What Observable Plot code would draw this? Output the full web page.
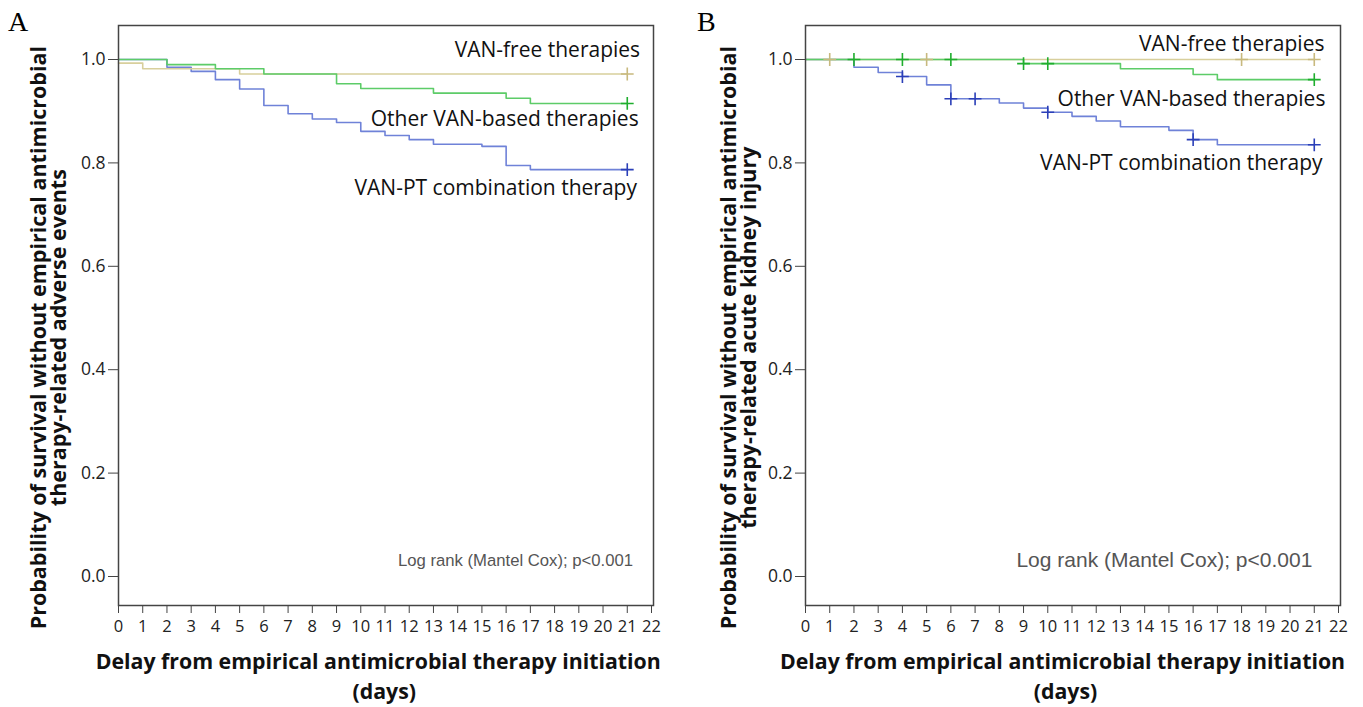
<!DOCTYPE html>
<html><head><meta charset="utf-8">
<script src="https://cdn.jsdelivr.net/npm/d3@7"></script>
<script src="https://cdn.jsdelivr.net/npm/@observablehq/plot@0.6"></script>
<style>
html,body{margin:0;padding:0;background:#fff;overflow:hidden;}
#wrap{display:flex;width:1363px;height:707px;}
g[aria-label="y-axis tick label"]{font-size:17.5px !important;}
g[aria-label="x-axis tick label"]{font-size:16.5px !important;}
</style></head><body><div id="wrap"></div>
<script>
// ---------- data ----------
const groups = ["VAN-free therapies", "Other VAN-based therapies", "VAN-PT combination therapy"];
const lineColors = ["#d8cf9c", "#5dcc68", "#6f82d8"];
const censorColors = ["#c8b97e", "#1fae2e", "#2b3fb8"];
const xTicks = d3.range(0, 23);
const yTicks = [0, 0.2, 0.4, 0.6, 0.8, 1.0];

// Panel A: adverse events
const aFreeDays = [0, 1, 5, 21];
const aFreeSurv = [0.993, 0.982, 0.972, 0.972];
const aFreeCens = [21];
const aOtherDays = [0, 2, 4, 6, 9, 10, 13, 16, 17, 21];
const aOtherSurv = [1, 0.990, 0.982, 0.972, 0.953, 0.944, 0.935, 0.925, 0.915, 0.915];
const aOtherCens = [21];
const aPTDays = [0, 2, 3, 4, 5, 6, 7, 8, 9, 10, 11, 12, 13, 15, 16, 17, 21];
const aPTSurv = [1, 0.985, 0.977, 0.961, 0.943, 0.911, 0.895, 0.885, 0.878, 0.861, 0.853, 0.845, 0.836, 0.832, 0.795, 0.787, 0.787];
const aPTCens = [21];

// Panel B: acute kidney injury
const bFreeDays = [0, 21];
const bFreeSurv = [1, 1];
const bFreeCens = [1, 5, 18, 21];
const bOtherDays = [0, 9, 13, 16, 17, 21];
const bOtherSurv = [1, 0.992, 0.982, 0.971, 0.961, 0.961];
const bOtherCens = [2, 4, 6, 9, 10, 21];
const bPTDays = [0, 2, 3, 4, 5, 6, 8, 9, 10, 11, 12, 13, 15, 16, 17, 21];
const bPTSurv = [1, 0.985, 0.975, 0.967, 0.951, 0.924, 0.916, 0.906, 0.898, 0.890, 0.881, 0.870, 0.863, 0.845, 0.835, 0.835];
const bPTCens = [4, 6, 7, 10, 16, 21];

const yLabelA = "Probability of survival without empirical antimicrobial\ntherapy-related adverse events";
const yLabelB = "Probability of survival without empirical antimicrobial\ntherapy-related acute kidney injury";
const xLabel = "Delay from empirical antimicrobial therapy initiation";
const xLabel2 = "(days)";
const statText = "Log rank (Mantel Cox); p<0.001";

// ---------- helpers ----------
function survAt(days, surv, t) {
  let v = surv[0];
  for (let i = 0; i < days.length; i++) if (days[i] <= t) v = surv[i];
  return v;
}
function seriesRows(days, surv) { return days.map((d, i) => ({t: d, s: surv[i]})); }

function panel(cfg) {
  const marks = [];
  const order = [2, 0, 1];
  for (const k of order) {
    const sr = cfg.series[k];
    marks.push(Plot.line(seriesRows(sr.days, sr.surv), {x: "t", y: "s", curve: "step-after", stroke: lineColors[k], strokeWidth: 1.6}));
  }
  for (const k of order) {
    const sr = cfg.series[k];
    const pts = sr.cens.map(t => ({t, s: survAt(sr.days, sr.surv, t)}));
    marks.push(Plot.dot(pts, {x: "t", y: "s", symbol: "plus", r: 4.2, stroke: censorColors[k], strokeWidth: 1.6}));
  }
  marks.push(Plot.text(cfg.labels, {x: "x", y: "y", text: "text", textAnchor: "end", fontSize: 21, fill: "#111", fontFamily: "Open Sans"}));
  marks.push(Plot.text([statText], {x: cfg.stat[0], y: cfg.stat[1], text: d => d, textAnchor: "end", fontSize: cfg.statSize, fill: "#555", fontFamily: "Liberation Sans"}));
  marks.push(Plot.text([cfg.yLabel], {x: cfg.yl[0], y: cfg.yl[1], text: d => d, rotate: -90, fontSize: 21.5, fontWeight: "bold", lineHeight: 0.93, fill: "#111", fontFamily: "Open Sans"}));
  marks.push(Plot.text([xLabel], {x: cfg.xl, y: -0.166, text: d => d, fontSize: 21.3, fontWeight: "bold", fill: "#111", fontFamily: "Open Sans"}));
  marks.push(Plot.text([xLabel2], {x: cfg.xl2, y: -0.224, text: d => d, fontSize: 21.3, fontWeight: "bold", fill: "#111", fontFamily: "Open Sans"}));
  marks.push(Plot.text([cfg.letter], {x: cfg.lt, y: 1.072, text: d => d, fontSize: 28, fill: "#000", fontFamily: "Liberation Serif"}));
  marks.push(Plot.axisY(yTicks, {tickFormat: d3.format(".1f"), tickSize: 10, tickPadding: 3, stroke: "#444", fill: "#222", label: null}));
  marks.push(Plot.axisX(xTicks, {tickSize: 8, tickPadding: 7, stroke: "#444", fill: "#222", label: null}));
  marks.push(Plot.frame({stroke: "#444", strokeWidth: 1.5}));

  return Plot.plot({
    width: cfg.width, height: 707,
    marginLeft: cfg.ml, marginRight: cfg.mr, marginTop: 25, marginBottom: 102,
    x: {domain: [0, 22], insetRight: 2},
    y: {domain: [0, 1], insetTop: 34, insetBottom: 29},
    style: {fontFamily: "Open Sans", fontSize: "16px", color: "#222", background: "white", overflow: "visible"},
    marks
  });
}

const A = panel({
  width: 682, ml: 118, mr: 29, letter: "A", lt: -4.14,
  series: [
    {days: aFreeDays, surv: aFreeSurv, cens: aFreeCens},
    {days: aOtherDays, surv: aOtherSurv, cens: aOtherCens},
    {days: aPTDays, surv: aPTSurv, cens: aPTCens}
  ],
  labels: [
    {x: 21.53, y: 1.017, text: groups[0]},
    {x: 21.47, y: 0.884, text: groups[1]},
    {x: 21.40, y: 0.750, text: groups[2]}
  ],
  stat: [21.24, 0.031], statSize: 16.7,
  yLabel: yLabelA, yl: [-2.86, 0.462],
  xl: 10.72, xl2: 10.97
});
const B = panel({
  width: 681, ml: 123, mr: 23, letter: "B", lt: -4.09,
  series: [
    {days: bFreeDays, surv: bFreeSurv, cens: bFreeCens},
    {days: bOtherDays, surv: bOtherSurv, cens: bOtherCens},
    {days: bPTDays, surv: bPTSurv, cens: bPTCens}
  ],
  labels: [
    {x: 21.42, y: 1.029, text: groups[0]},
    {x: 21.46, y: 0.923, text: groups[1]},
    {x: 21.34, y: 0.799, text: groups[2]}
  ],
  stat: [20.92, 0.031], statSize: 21,
  yLabel: yLabelB, yl: [-2.72, 0.462],
  xl: 10.61, xl2: 10.73
});
document.getElementById("wrap").append(A, B);
</script></body></html>
